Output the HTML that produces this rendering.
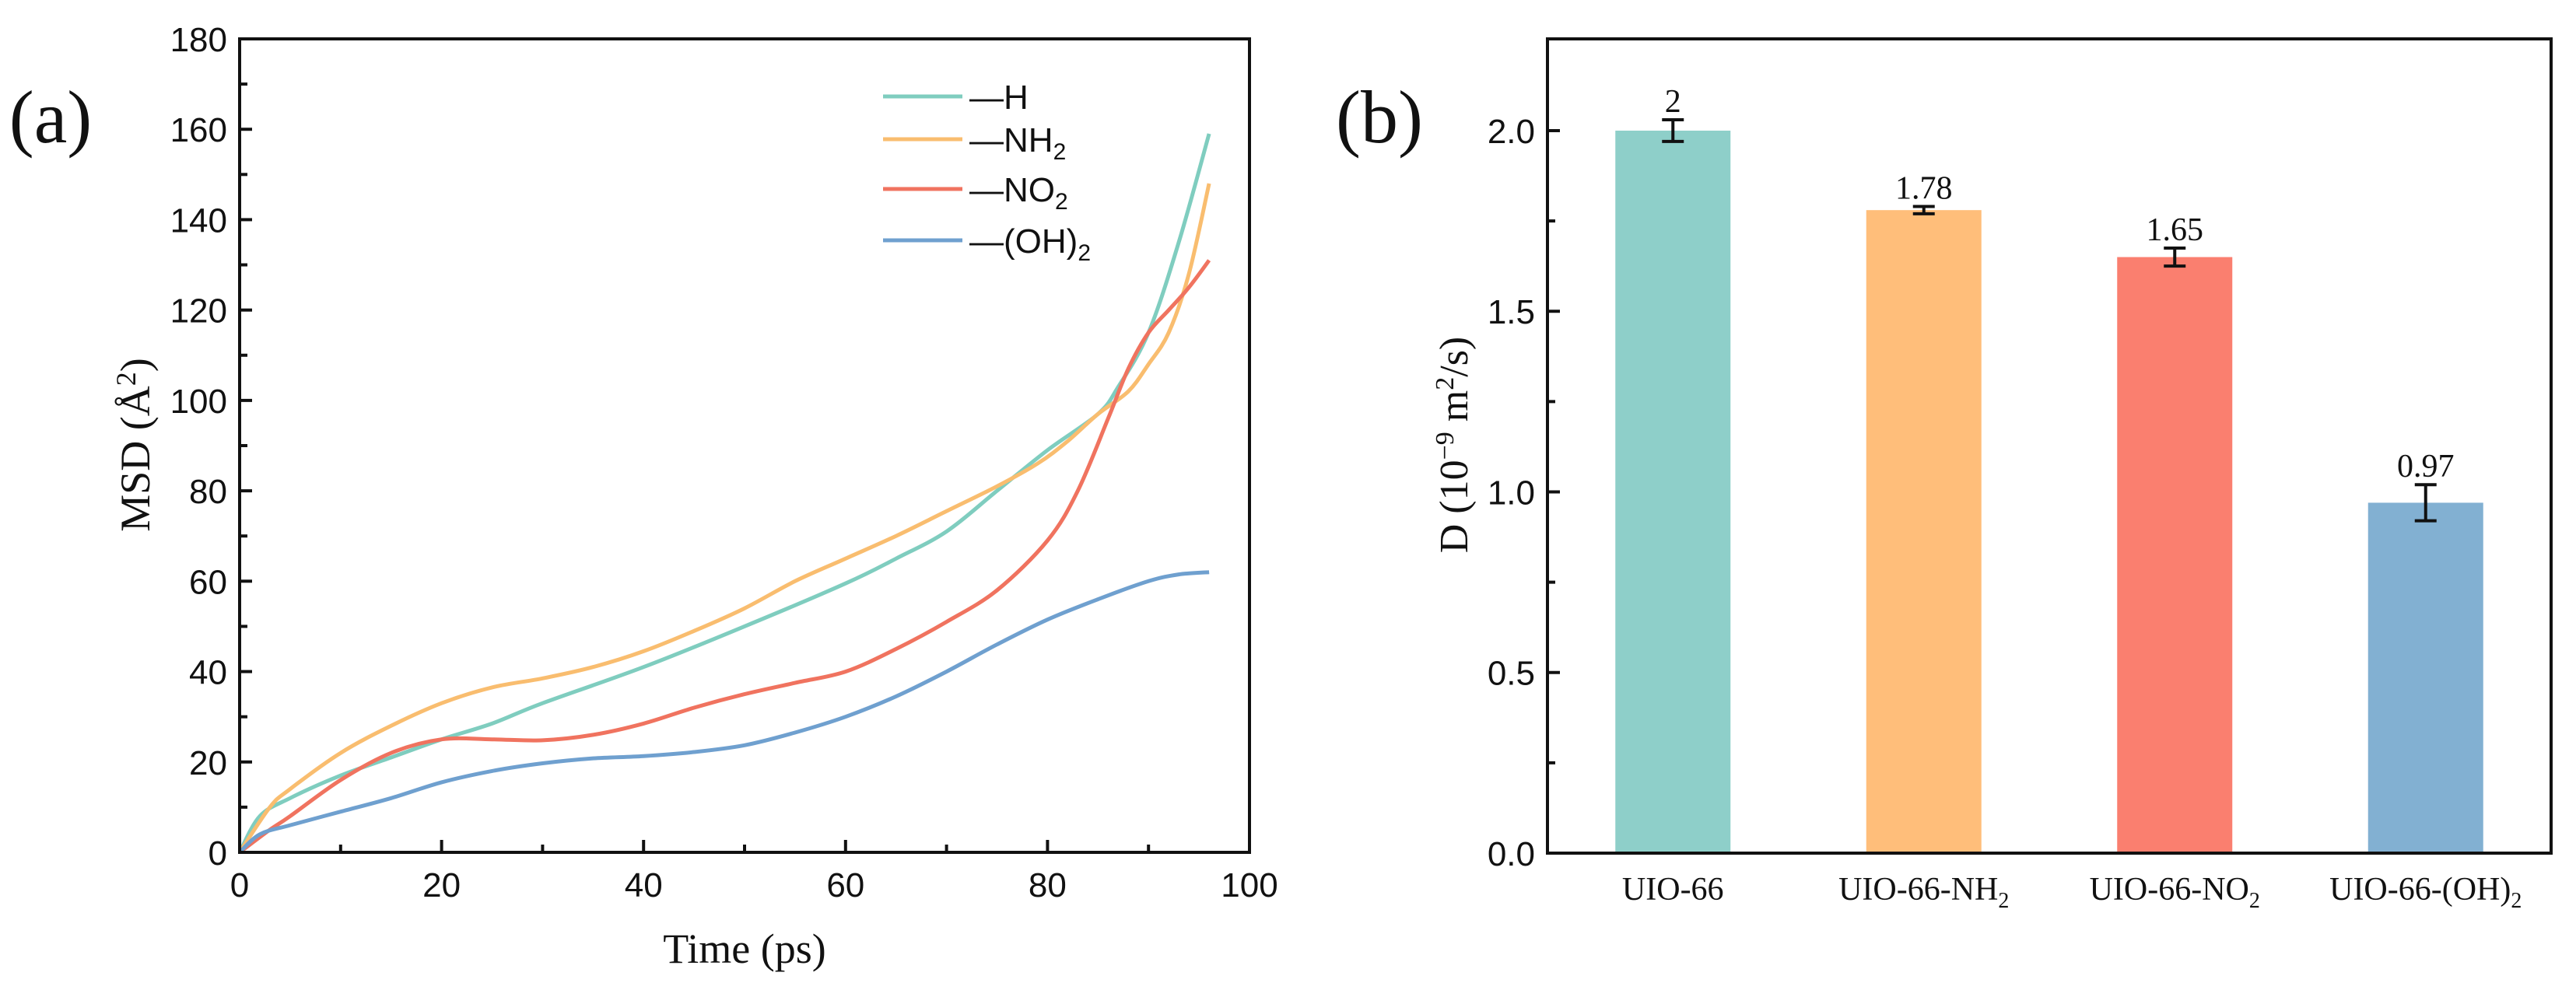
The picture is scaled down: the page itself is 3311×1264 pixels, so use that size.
<!DOCTYPE html>
<html><head><meta charset="utf-8"><style>
html,body{margin:0;padding:0;background:#fff;}
svg{display:block;}
.tick{font-family:"Liberation Sans",Arial,sans-serif;font-size:44px;fill:#111;}
.ser{font-family:"Liberation Serif","Times New Roman",serif;fill:#111;}
</style></head><body>
<svg id="fig" width="3311" height="1264" viewBox="0 0 3311 1264" xmlns="http://www.w3.org/2000/svg">
<g id="pa"></g>
<g id="pb"></g>
</svg>
<script>
// Panel (a) data
const msdNames = ["—H","—NH2","—NO2","—(OH)2"];
const hX = [0,2,5,10,15,20,25,30,40,50,60,65,70,75,80,85,87,90,93,96];
const hY = [0,8,12,17,21,25,28.5,33,41,50,59.5,65,71,80,89,97,103,115,135,159];
const nh2X = [0,3,5,10,15,20,25,30,35,40,45,50,55,60,65,70,75,79,82,85,88,90,92,94,96];
const nh2Y = [0,10,14,22,28,33,36.5,38.5,41,44.5,49,54,60,65,70,75.5,81,86,91,97,102,108,115,128,148];
const no2X = [0,3,5,10,15,20,25,30,35,40,45,50,55,60,65,70,75,80,83,86,88,90,92,94,96];
const no2Y = [0,5,8,16,22,25,25,24.8,26,28.5,32,35,37.5,40,45,51,58,69,80,96,107,115,120,125,131];
const ohX = [0,2,5,10,15,20,25,30,35,40,45,50,55,60,65,70,75,80,85,90,93,96];
const ohY = [0,4,6,9,12,15.5,18,19.7,20.8,21.3,22.2,23.7,26.5,30,34.5,40,46,51.5,56,60,61.5,62];
const xTicksA = [0,20,40,60,80,100];
const yTicksA = [0,20,40,60,80,100,120,140,160,180];
// Panel (b) data
const cats = ["UIO-66","UIO-66-NH2","UIO-66-NO2","UIO-66-(OH)2"];
const dVals = [2,1.78,1.65,0.97];
const dErr = [0.03,0.01,0.025,0.05];
const dLabels = ["2","1.78","1.65","0.97"];
const yTicksB = [0,0.5,1.0,1.5,2.0];

const NS="http://www.w3.org/2000/svg";
function mk(parent,tag,attrs,text){const e=document.createElementNS(NS,tag);for(const k in attrs)e.setAttribute(k,attrs[k]);if(text!==undefined)e.textContent=text;parent.appendChild(e);return e;}

// ---- Panel a ----
const pa=document.getElementById('pa');
const aL=308,aR=1606,aT=50,aB=1096;
const xa=v=>aL+(v-0)/100*(aR-aL);
const ya=v=>aB-(v/180)*(aB-aT);
const colorsA=["#7fcdbf","#f9bd6f","#f0735f","#6fa0cf"];
const seriesX=[hX,nh2X,no2X,ohX], seriesY=[hY,nh2Y,no2Y,ohY];
function smooth(xs,ys){const p=xs.map((x,i)=>[xa(x),ya(ys[i])]);let d="M"+p[0][0]+","+p[0][1];
 for(let i=0;i<p.length-1;i++){const p0=p[Math.max(0,i-1)],p1=p[i],p2=p[i+1],p3=p[Math.min(p.length-1,i+2)];
 const c1=[p1[0]+(p2[0]-p0[0])/6,p1[1]+(p2[1]-p0[1])/6],c2=[p2[0]-(p3[0]-p1[0])/6,p2[1]-(p3[1]-p1[1])/6];
 d+=" C"+c1[0].toFixed(1)+","+c1[1].toFixed(1)+" "+c2[0].toFixed(1)+","+c2[1].toFixed(1)+" "+p2[0].toFixed(1)+","+p2[1].toFixed(1);}return d;}
const lineNames=['line-h','line-nh2','line-no2','line-oh2'];
for(let s=0;s<4;s++){
 const l=mk(pa,'path',{d:smooth(seriesX[s],seriesY[s]),fill:'none',stroke:colorsA[s],'stroke-width':5,'stroke-linejoin':'round'});
 
 
}
const frameA=mk(pa,'rect',{x:aL,y:aT,width:aR-aL,height:aB-aT,fill:'none',stroke:'#111','stroke-width':4});


for(let v=0;v<=100;v+=10){const maj=v%20===0;const t=mk(pa,'line',{x1:xa(v),x2:xa(v),y1:aB,y2:aB-(maj?16:10),stroke:'#111','stroke-width':4});
 
 }
for(let v=0;v<=180;v+=10){const maj=v%20===0;const t=mk(pa,'line',{x1:aL,x2:aL+(maj?16:10),y1:ya(v),y2:ya(v),stroke:'#111','stroke-width':4});
 
 }
xTicksA.forEach(v=>{const t=mk(pa,'text',{x:xa(v),y:aB+57,'text-anchor':'middle',class:'tick'},String(v));
 
 });
yTicksA.forEach(v=>{const t=mk(pa,'text',{x:aL-16,y:ya(v)+16,'text-anchor':'end',class:'tick'},String(v));
 
 });
const xt=mk(pa,'text',{x:957,y:1238,'text-anchor':'middle',class:'ser','font-size':54},'Time (ps)');


const yt=mk(pa,'text',{x:0,y:0,'text-anchor':'middle',class:'ser','font-size':54,transform:'translate(192,572) rotate(-90)'});
yt.innerHTML='MSD (Å<tspan dy="-18" font-size="36">2</tspan><tspan dy="18">)</tspan>';


const la=mk(pa,'text',{x:65,y:183,'text-anchor':'middle',class:'ser','font-size':96},'(a)');


const legY=[124,179,243,309];
const legHTML=['—H','—NH<tspan dy="10" font-size="30">2</tspan>','—NO<tspan dy="10" font-size="30">2</tspan>','—(OH)<tspan dy="10" font-size="30">2</tspan>'];
for(let s=0;s<4;s++){
 const g=mk(pa,'g',{});
 
 
 mk(g,'line',{x1:1135,x2:1237,y1:legY[s],y2:legY[s],stroke:colorsA[s],'stroke-width':5});
 const t=mk(g,'text',{x:1246,y:legY[s]+16,class:'tick','font-size':44});t.innerHTML=legHTML[s];
}

// ---- Panel b ----
const pb=document.getElementById('pb');
const bL=1989,bR=3279,bT=50,bB=1097,bMax=2.254;
const yb=v=>bB-(v/bMax)*(bB-bT);
const xb=i=>bL+(i+0.5)*(bR-bL)/cats.length;
const colorsB=["#8ECFC9","#FFBE7A","#FA7F6F","#82B0D2"];
const bw=148;
dVals.forEach((v,i)=>{
 const r=mk(pb,'rect',{x:xb(i)-bw/2,y:yb(v),width:bw,height:bB-yb(v),fill:colorsB[i]});
 
 
 const e=mk(pb,'path',{d:`M${xb(i)-14},${yb(v+dErr[i])} h28 M${xb(i)},${yb(v+dErr[i])} V${yb(v-dErr[i])} M${xb(i)-14},${yb(v-dErr[i])} h28`,stroke:'#111','stroke-width':4,fill:'none'});
 
 
 const t=mk(pb,'text',{x:xb(i),y:yb(v+dErr[i])-10,'text-anchor':'middle',class:'ser','font-size':42},dLabels[i]);
 
 
});
const frameB=mk(pb,'rect',{x:bL,y:bT,width:bR-bL,height:bB-bT,fill:'none',stroke:'#111','stroke-width':4});


for(let k=0;k<=8;k++){const v=k*0.25;const maj=k%2===0;const t=mk(pb,'line',{x1:bL,x2:bL+(maj?16:10),y1:yb(v),y2:yb(v),stroke:'#111','stroke-width':4});
 
 }
yTicksB.forEach(v=>{const t=mk(pb,'text',{x:bL-16,y:yb(v)+16,'text-anchor':'end',class:'tick'},v.toFixed(1));
 
 });
const catHTML=['UIO-66','UIO-66-NH<tspan dy="10" font-size="28">2</tspan>','UIO-66-NO<tspan dy="10" font-size="28">2</tspan>','UIO-66-(OH)<tspan dy="10" font-size="28">2</tspan>'];
cats.forEach((c,i)=>{const t=mk(pb,'text',{x:xb(i),y:1157,'text-anchor':'middle',class:'ser','font-size':42});t.innerHTML=catHTML[i];
 
 });
const ybt=mk(pb,'text',{x:0,y:0,'text-anchor':'middle',class:'ser','font-size':52,transform:'translate(1886,572) rotate(-90)'});
ybt.innerHTML='D (10<tspan dy="-18" font-size="34">−9</tspan><tspan dy="18"> m</tspan><tspan dy="-18" font-size="34">2</tspan><tspan dy="18">/s)</tspan>';


const lb=mk(pb,'text',{x:1773,y:183,'text-anchor':'middle',class:'ser','font-size':96},'(b)');


</script>
</body></html>
